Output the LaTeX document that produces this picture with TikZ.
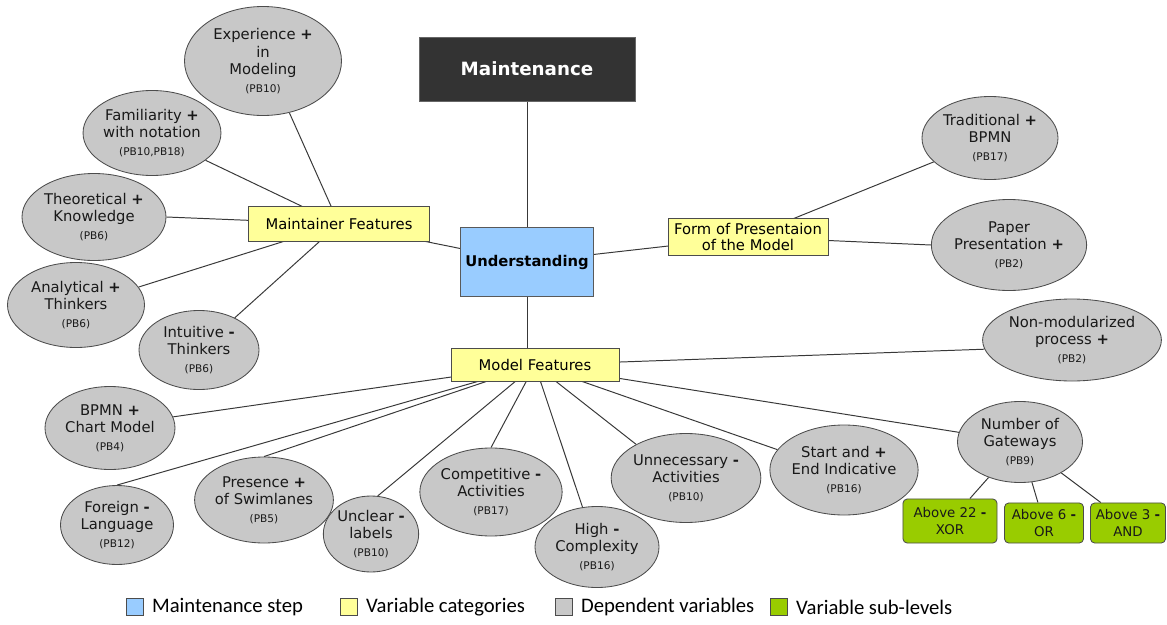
\documentclass[tikz,border=0pt]{standalone}
\usepackage{fontspec}
\setmainfont{DejaVu Sans}
\newfontfamily\legendfont{Carlito}
\usepackage{xcolor}
\usepackage{tikz}
\usetikzlibrary{shapes.geometric,backgrounds}

\definecolor{stepblue}{HTML}{99CCFF}
\definecolor{catyellow}{HTML}{FFFF99}
\definecolor{depgrey}{HTML}{C8C8C8}
\definecolor{subgreen}{HTML}{99CC00}
\definecolor{topdark}{HTML}{333333}

\newcommand{\pbnote}[1]{{\fontsize{7.5}{8}\selectfont(#1)}}

\tikzset{
    link/.style={draw=black!78, line width=0.7pt},
    topbox/.style={draw=black!60, fill=topdark, text=white, font=\fontsize{13}{15}\selectfont\bfseries},
    stepbox/.style={draw=black!65, line width=0.6pt, fill=stepblue, font=\fontsize{10.5}{12}\selectfont\bfseries},
    catbox/.style={draw=black!70, line width=0.6pt, fill=catyellow, align=center, inner sep=1pt, font=\fontsize{10.5}{12}\selectfont},
    depvar/.style 2 args={ellipse, draw=black!70, line width=0.6pt, fill=depgrey, align=center, inner sep=0pt,
        minimum width=#1*0.025cm, minimum height=#2*0.025cm, text=black!90, font=\fontsize{10.5}{12.5}\selectfont},
    sublevel/.style={draw=black!70, line width=0.6pt, fill=subgreen, rounded corners=3pt, align=center, inner sep=0pt,
        text=black!90, font=\fontsize{9.5}{11.5}\selectfont},
    keybox/.style={draw=black!70, minimum size=0.42cm, inner sep=0pt}
}

\begin{document}
\begin{tikzpicture}[x=0.025cm, y=-0.025cm]
    \useasboundingbox (0,0) rectangle (1167,625);

    \node[topbox, minimum width=5.4cm, minimum height=1.6cm] (maint) at (527,69) {Maintenance};
    \node[stepbox, minimum width=3.325cm, minimum height=1.725cm] (und) at (527,262) {Understanding};

    \node[catbox, minimum width=4.525cm, minimum height=0.875cm] (mf) at (339,224) {Maintainer Features};
    \node[catbox, minimum width=4cm, minimum height=0.925cm] (fp) at (748,237) {Form of Presentaion\\of the Model};
    \node[catbox, minimum width=4.2cm, minimum height=0.825cm] (modf) at (535,365) {Model Features};

    \node[depvar={157}{109}] (exp) at (263,61) {Experience \textbf{+}\\in\\Modeling\\\pbnote{PB10}};
    \node[depvar={137}{85}] (fam) at (152,133) {Familiarity \textbf{+}\\with notation\\\pbnote{PB10,PB18}};
    \node[depvar={144}{87}] (theo) at (94,217) {Theoretical \textbf{+}\\Knowledge\\\pbnote{PB6}};
    \node[depvar={137}{85}] (anal) at (76,305) {Analytical \textbf{+}\\Thinkers\\\pbnote{PB6}};
    \node[depvar={120}{79}] (intu) at (199,350) {Intuitive \textbf{-}\\Thinkers\\\pbnote{PB6}};

    \node[depvar={136}{83}] (trad) at (990,138) {Traditional \textbf{+}\\BPMN\\\pbnote{PB17}};
    \node[depvar={155}{91}] (paper) at (1009,245) {Paper\\Presentation \textbf{+}\\\pbnote{PB2}};
    \node[depvar={175}{82}] (nonmod) at (1072,340) {Non-modularized\\process \textbf{+}\\\pbnote{PB2}};

    \node[depvar={130}{83}] (bpmn) at (110,428) {BPMN \textbf{+}\\Chart Model\\\pbnote{PB4}};
    \node[depvar={113}{79}] (foreign) at (117,525) {Foreign \textbf{-}\\Language\\\pbnote{PB12}};
    \node[depvar={138}{86}] (swim) at (264,500) {Presence \textbf{+}\\of Swimlanes\\\pbnote{PB5}};
    \node[depvar={92}{76}] (unclear) at (371,534) {Unclear \textbf{-}\\labels\\\pbnote{PB10}};
    \node[depvar={141}{88}] (comp) at (491,492) {Competitive \textbf{-}\\Activities\\\pbnote{PB17}};
    \node[depvar={124}{81}] (high) at (597,547) {High \textbf{-}\\Complexity\\\pbnote{PB16}};
    \node[depvar={146}{89}] (unnec) at (686,478) {Unnecessary \textbf{-}\\Activities\\\pbnote{PB10}};
    \node[depvar={146}{90}] (start) at (844,470) {Start and \textbf{+}\\End Indicative\\\pbnote{PB16}};
    \node[depvar={125}{81}] (gate) at (1020,442) {Number of\\Gateways\\\pbnote{PB9}};

    \node[sublevel, minimum width=2.35cm, minimum height=1.1cm] (xor) at (950,521) {Above 22 \textbf{-}\\XOR};
    \node[sublevel, minimum width=1.975cm, minimum height=1cm] (or) at (1044,523) {Above 6 \textbf{-}\\OR};
    \node[sublevel, minimum width=1.875cm, minimum height=1cm] (and) at (1128,523) {Above 3 \textbf{-}\\AND};

    \begin{scope}[on background layer]
        \draw[link] (maint) -- (und);
        \draw[link] (und.center) -- (mf.center);
        \draw[link] (und.center) -- (fp.center);
        \draw[link] (und.south) -- (und.south |- modf.north);
        \foreach \e/\a in {exp/-63,fam/-27,theo/0,anal/16,intu/42}
            \draw[link] (mf.center) -- (\e.\a);
        \foreach \e/\a in {trad/203,paper/180}
            \draw[link] (fp.center) -- (\e.\a);
        \foreach \e/\a in {nonmod/186,bpmn/10,foreign/90,swim/90,unclear/80,comp/90,high/110,unnec/146,start/163,gate/171}
            \draw[link] (modf.center) -- (\e.\a);
        \foreach \e in {xor,or,and}
            \draw[link] (gate) -- (\e);
    \end{scope}

    \foreach \c/\t/\x [count=\i] in {stepblue/Maintenance step/135, catyellow/Variable categories/349,
            depgrey/Dependent variables/564, subgreen/Variable sub-levels/779} {
        \node[keybox, fill=\c] (key\i) at (\x,607) {};
        \node[anchor=west, inner sep=0pt, font=\legendfont\fontsize{14.7}{16}\selectfont] (keytext\i)
            at ([xshift=0.42cm]key\i.center) {\t};
    }
\end{tikzpicture}
\end{document}
